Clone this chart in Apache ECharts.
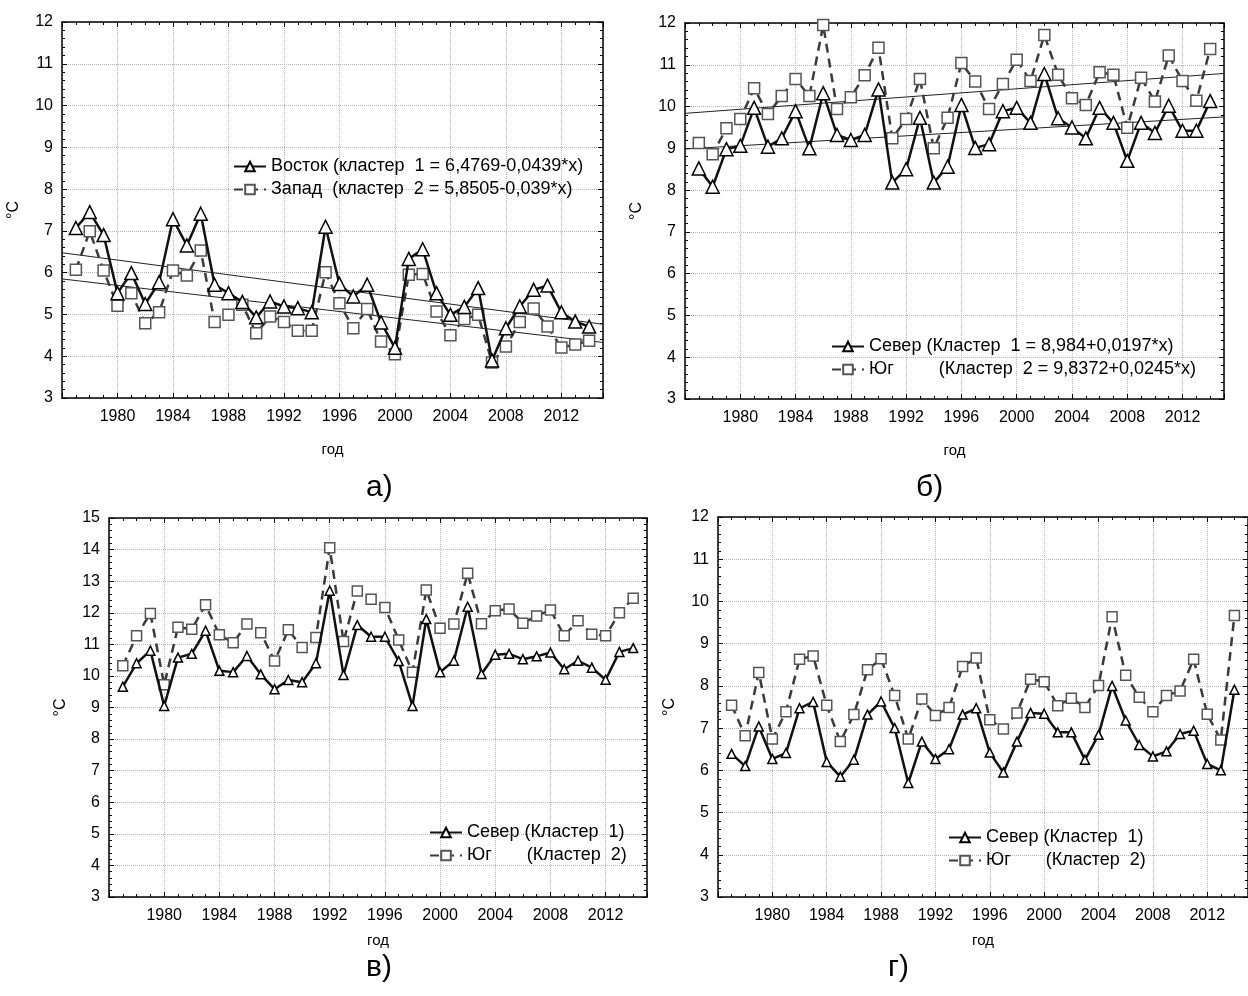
<!doctype html>
<html>
<head>
<meta charset="utf-8">
<style>
    html, body { margin: 0; padding: 0; background: #fff; }
    #main { width: 1248px; height: 996px; }
</style>
</head>
<body>
<div id="main"></div>
<script src="https://cdn.jsdelivr.net/npm/echarts@6/dist/echarts.min.js"></script>
<script>
// годы наблюдений
var years = [1977, 1978, 1979, 1980, 1981, 1982, 1983, 1984, 1985, 1986,
             1987, 1988, 1989, 1990, 1991, 1992, 1993, 1994, 1995, 1996,
             1997, 1998, 1999, 2000, 2001, 2002, 2003, 2004, 2005, 2006,
             2007, 2008, 2009, 2010, 2011, 2012, 2013, 2014];

// а) Восток / Запад
var aEast = [7.07, 7.45, 6.9, 5.51, 5.99, 5.25, 5.77, 7.28, 6.65, 7.41,
             5.71, 5.51, 5.3, 4.93, 5.31, 5.19, 5.15, 5.05, 7.1, 5.73,
             5.43, 5.71, 4.81, 4.2, 6.33, 6.56, 5.51, 4.99, 5.18, 5.63,
             3.9, 4.67, 5.19, 5.59, 5.69, 5.05, 4.83, 4.71];
var aWest = [6.07, 6.99, 6.05, 5.21, 5.51, 4.79, 5.05, 6.05, 5.93, 6.53,
             4.82, 4.99, 5.23, 4.55, 4.95, 4.82, 4.61, 4.61, 6.01, 5.27,
             4.67, 5.13, 4.35, 4.05, 5.95, 5.97, 5.07, 4.5, 4.89, 4.99,
             3.85, 4.23, 4.82, 5.14, 4.71, 4.21, 4.28, 4.37];

// б) Север / Юг
var bNorth = [8.52, 8.08, 8.98, 9.06, 9.97, 9.04, 9.24, 9.89, 9.0, 10.32,
              9.32, 9.2, 9.32, 10.41, 8.18, 8.5, 9.73, 8.18, 8.56, 10.04,
              9.01, 9.1, 9.89, 9.97, 9.61, 10.78, 9.72, 9.5, 9.24, 9.97,
              9.61, 8.7, 9.61, 9.37, 10.02, 9.42, 9.42, 10.13];
var bSouth = [9.13, 8.86, 9.48, 9.7, 10.44, 9.82, 10.25, 10.66, 10.25, 11.95,
              9.94, 10.22, 10.75, 11.41, 9.24, 9.7, 10.66, 9.0, 9.73, 11.04,
              10.6, 9.94, 10.54, 11.12, 10.61, 11.71, 10.76, 10.2, 10.04, 10.82,
              10.76, 9.49, 10.69, 10.12, 11.22, 10.61, 10.14, 11.38];

// в) Север / Юг
var cNorth = [9.66, 10.4, 10.8, 9.05, 10.58, 10.7, 11.43, 10.16, 10.12, 10.63,
              10.05, 9.58, 9.87, 9.8, 10.4, 12.7, 10.03, 11.61, 11.24, 11.24,
              10.47, 9.05, 11.8, 10.12, 10.48, 12.19, 10.06, 10.67, 10.7, 10.53,
              10.62, 10.74, 10.21, 10.48, 10.26, 9.88, 10.76, 10.88];
var cSouth = [10.32, 11.27, 11.98, 9.72, 11.54, 11.48, 12.25, 11.3, 11.05, 11.64,
              11.37, 10.47, 11.46, 10.9, 11.22, 14.06, 11.09, 12.69, 12.43, 12.17,
              11.14, 10.12, 12.72, 11.51, 11.64, 13.25, 11.65, 12.06, 12.12, 11.67,
              11.9, 12.09, 11.27, 11.75, 11.32, 11.27, 12.0, 12.46];

// г) Север / Юг
var dNorth = [6.39, 6.1, 7.04, 6.27, 6.41, 7.47, 7.62, 6.2, 5.85, 6.25,
              7.32, 7.63, 7.0, 5.7, 6.68, 6.27, 6.5, 7.32, 7.47, 6.42,
              5.95, 6.68, 7.36, 7.34, 6.9, 6.9, 6.25, 6.84, 8.0, 7.18,
              6.6, 6.33, 6.45, 6.86, 6.94, 6.15, 6.0, 7.91];
var dSouth = [7.54, 6.82, 8.32, 6.74, 7.39, 8.63, 8.71, 7.54, 6.68, 7.32,
              8.38, 8.64, 7.77, 6.74, 7.69, 7.3, 7.49, 8.46, 8.66, 7.2,
              6.98, 7.36, 8.16, 8.1, 7.53, 7.71, 7.49, 8.01, 9.64, 8.25,
              7.73, 7.39, 7.77, 7.88, 8.63, 7.33, 6.72, 9.67];

// линейные тренды: y = a + b*x, x = год - 1976
var trendStart = 1976, trendEnd = 2015;
var aTrendEast = [6.4769, -0.0439];
var aTrendWest = [5.8505, -0.039];
var bTrendNorth = [8.984, 0.0197];
var bTrendSouth = [9.8372, 0.0245];

var names = {
    aEast: 'Восток (кластер  1 = 6,4769-0,0439*x)',
    aWest: 'Запад  (кластер  2 = 5,8505-0,039*x)',
    bNorth: 'Север (Кластер  1 = 8,984+0,0197*x)',
    bSouth: 'Юг         (Кластер  2 = 9,8372+0,0245*x)',
    cNorth: 'Север (Кластер  1)',
    cSouth: 'Юг       (Кластер  2)',
    dNorth: 'Север (Кластер  1) ',
    dSouth: 'Юг       (Кластер  2) '
};

var FONT = 'Liberation Sans, Arial, sans-serif';

var grids = [
    { left: 62, top: 22, right: 645, bottom: 598, ymin: 3, ymax: 12, xGap: 44 },
    { left: 685, top: 23, right: 24, bottom: 597, ymin: 3, ymax: 12, xGap: 44 },
    { left: 109, top: 518, right: 601, bottom: 99, ymin: 3, ymax: 15, xGap: 36 },
    { left: 718, top: 517, right: -9, bottom: 99, ymin: 3, ymax: 12, xGap: 36 }
];

var xAxes = [], yAxes = [], series = [];

grids.forEach(function (g, i) {
    xAxes.push({
        gridIndex: i, type: 'value', position: 'bottom',
        min: 1976, max: 2015, interval: 4,
        name: 'год', nameLocation: 'middle', nameGap: g.xGap,
        nameTextStyle: { fontFamily: FONT, fontSize: 15, color: '#000' },
        axisLine: { lineStyle: { color: '#000', width: 1.5 } },
        axisTick: { inside: true, length: 5, lineStyle: { color: '#000' } },
        minorTick: { show: true, splitNumber: 4, length: 3, lineStyle: { color: '#000' } },
        axisLabel: {
            fontFamily: FONT, fontSize: 16, color: '#000', margin: 11,
            showMinLabel: false, showMaxLabel: false,
            formatter: function (v) { return v % 4 === 0 ? String(v) : ''; }
        },
        splitLine: { show: true, lineStyle: { color: '#b5b5b5', type: 'dotted' } }
    });
    xAxes.push({
        gridIndex: i, type: 'value', position: 'top',
        min: 1976, max: 2015, interval: 4,
        axisLine: { lineStyle: { color: '#000', width: 1.5 } },
        axisTick: { inside: true, length: 5, lineStyle: { color: '#000' } },
        minorTick: { show: true, splitNumber: 4, length: 3, lineStyle: { color: '#000' } },
        axisLabel: { show: false },
        splitLine: { show: false }
    });
    yAxes.push({
        gridIndex: i, type: 'value', position: 'left',
        min: g.ymin, max: g.ymax, interval: 1,
        name: '°C', nameLocation: 'middle', nameGap: 40, nameRotate: 90,
        nameTextStyle: { fontFamily: FONT, fontSize: 16, color: '#000' },
        axisLine: { show: true, lineStyle: { color: '#000', width: 1.5 } },
        axisTick: { show: true, inside: true, length: 5, lineStyle: { color: '#000' } },
        minorTick: { show: true, splitNumber: 5, length: 3, lineStyle: { color: '#000' } },
        axisLabel: { fontFamily: FONT, fontSize: 16, color: '#000', margin: 9 },
        splitLine: { show: true, lineStyle: { color: '#b5b5b5', type: 'dotted' } }
    });
    yAxes.push({
        gridIndex: i, type: 'value', position: 'right',
        min: g.ymin, max: g.ymax, interval: 1,
        axisLine: { show: true, lineStyle: { color: '#000', width: 1.5 } },
        axisTick: { show: true, inside: true, length: 5, lineStyle: { color: '#000' } },
        minorTick: { show: true, splitNumber: 5, length: 3, lineStyle: { color: '#000' } },
        axisLabel: { show: false },
        splitLine: { show: false }
    });
});

function pairs(vals) {
    return years.map(function (y, k) { return [y, vals[k]]; });
}

function solid(name, vals, gi, size) {
    return {
        name: name, type: 'line', xAxisIndex: gi * 2, yAxisIndex: gi * 2,
        data: pairs(vals), symbol: 'triangle', symbolSize: size,
        lineStyle: { color: '#111', width: 2.5 },
        itemStyle: { color: '#fff', borderColor: '#000', borderWidth: 1.5 },
        z: 4, animation: false
    };
}

function dashed(name, vals, gi, size) {
    return {
        name: name, type: 'line', xAxisIndex: gi * 2, yAxisIndex: gi * 2,
        data: pairs(vals), symbol: 'rect', symbolSize: size,
        lineStyle: { color: '#3a3a3a', width: 2.5, type: [9, 6] },
        itemStyle: { color: '#fff', borderColor: '#555', borderWidth: 1.5 },
        z: 3, animation: false
    };
}

function trend(coef, gi) {
    return {
        type: 'line', xAxisIndex: gi * 2, yAxisIndex: gi * 2,
        data: [[trendStart, coef[0]], [trendEnd, coef[0] + coef[1] * (trendEnd - trendStart)]],
        symbol: 'none', lineStyle: { color: '#222', width: 1 },
        silent: true, z: 2, animation: false
    };
}

series.push(trend(aTrendEast, 0), trend(aTrendWest, 0));
series.push(dashed(names.aWest, aWest, 0, 11), solid(names.aEast, aEast, 0, 13));
series.push(trend(bTrendNorth, 1), trend(bTrendSouth, 1));
series.push(dashed(names.bSouth, bSouth, 1, 11), solid(names.bNorth, bNorth, 1, 13));
series.push(dashed(names.cSouth, cSouth, 2, 10), solid(names.cNorth, cNorth, 2, 9));
series.push(dashed(names.dSouth, dSouth, 3, 10), solid(names.dNorth, dNorth, 3, 9));

function legend(left, top, list) {
    return {
        left: left, top: top, orient: 'vertical', itemGap: 4,
        itemWidth: 32, itemHeight: 12,
        textStyle: { fontFamily: FONT, fontSize: 18, color: '#000', lineHeight: 19 },
        data: list, selectedMode: false
    };
}

function caption(text, x, y) {
    return {
        type: 'text', left: x, top: y,
        style: { text: text, font: '30px ' + FONT, fill: '#000' }
    };
}

var chart = echarts.init(document.getElementById('main'));
chart.setOption({
    backgroundColor: '#fff',
    animation: false,
    grid: grids.map(function (g) {
        return { left: g.left, top: g.top, right: g.right, bottom: g.bottom, containLabel: false };
    }),
    xAxis: xAxes,
    yAxis: yAxes,
    legend: [
        legend(228, 152, [names.aEast, names.aWest]),
        legend(826, 332, [names.bNorth, names.bSouth]),
        legend(424, 818, [names.cNorth, names.cSouth]),
        legend(943, 823, [names.dNorth, names.dSouth])
    ],
    graphic: [
        caption('а)', 366, 473),
        caption('б)', 916, 473),
        caption('в)', 366, 953),
        caption('г)', 888, 953)
    ],
    series: series
});

window.onresize = chart.resize;
</script>
</body>
</html>
